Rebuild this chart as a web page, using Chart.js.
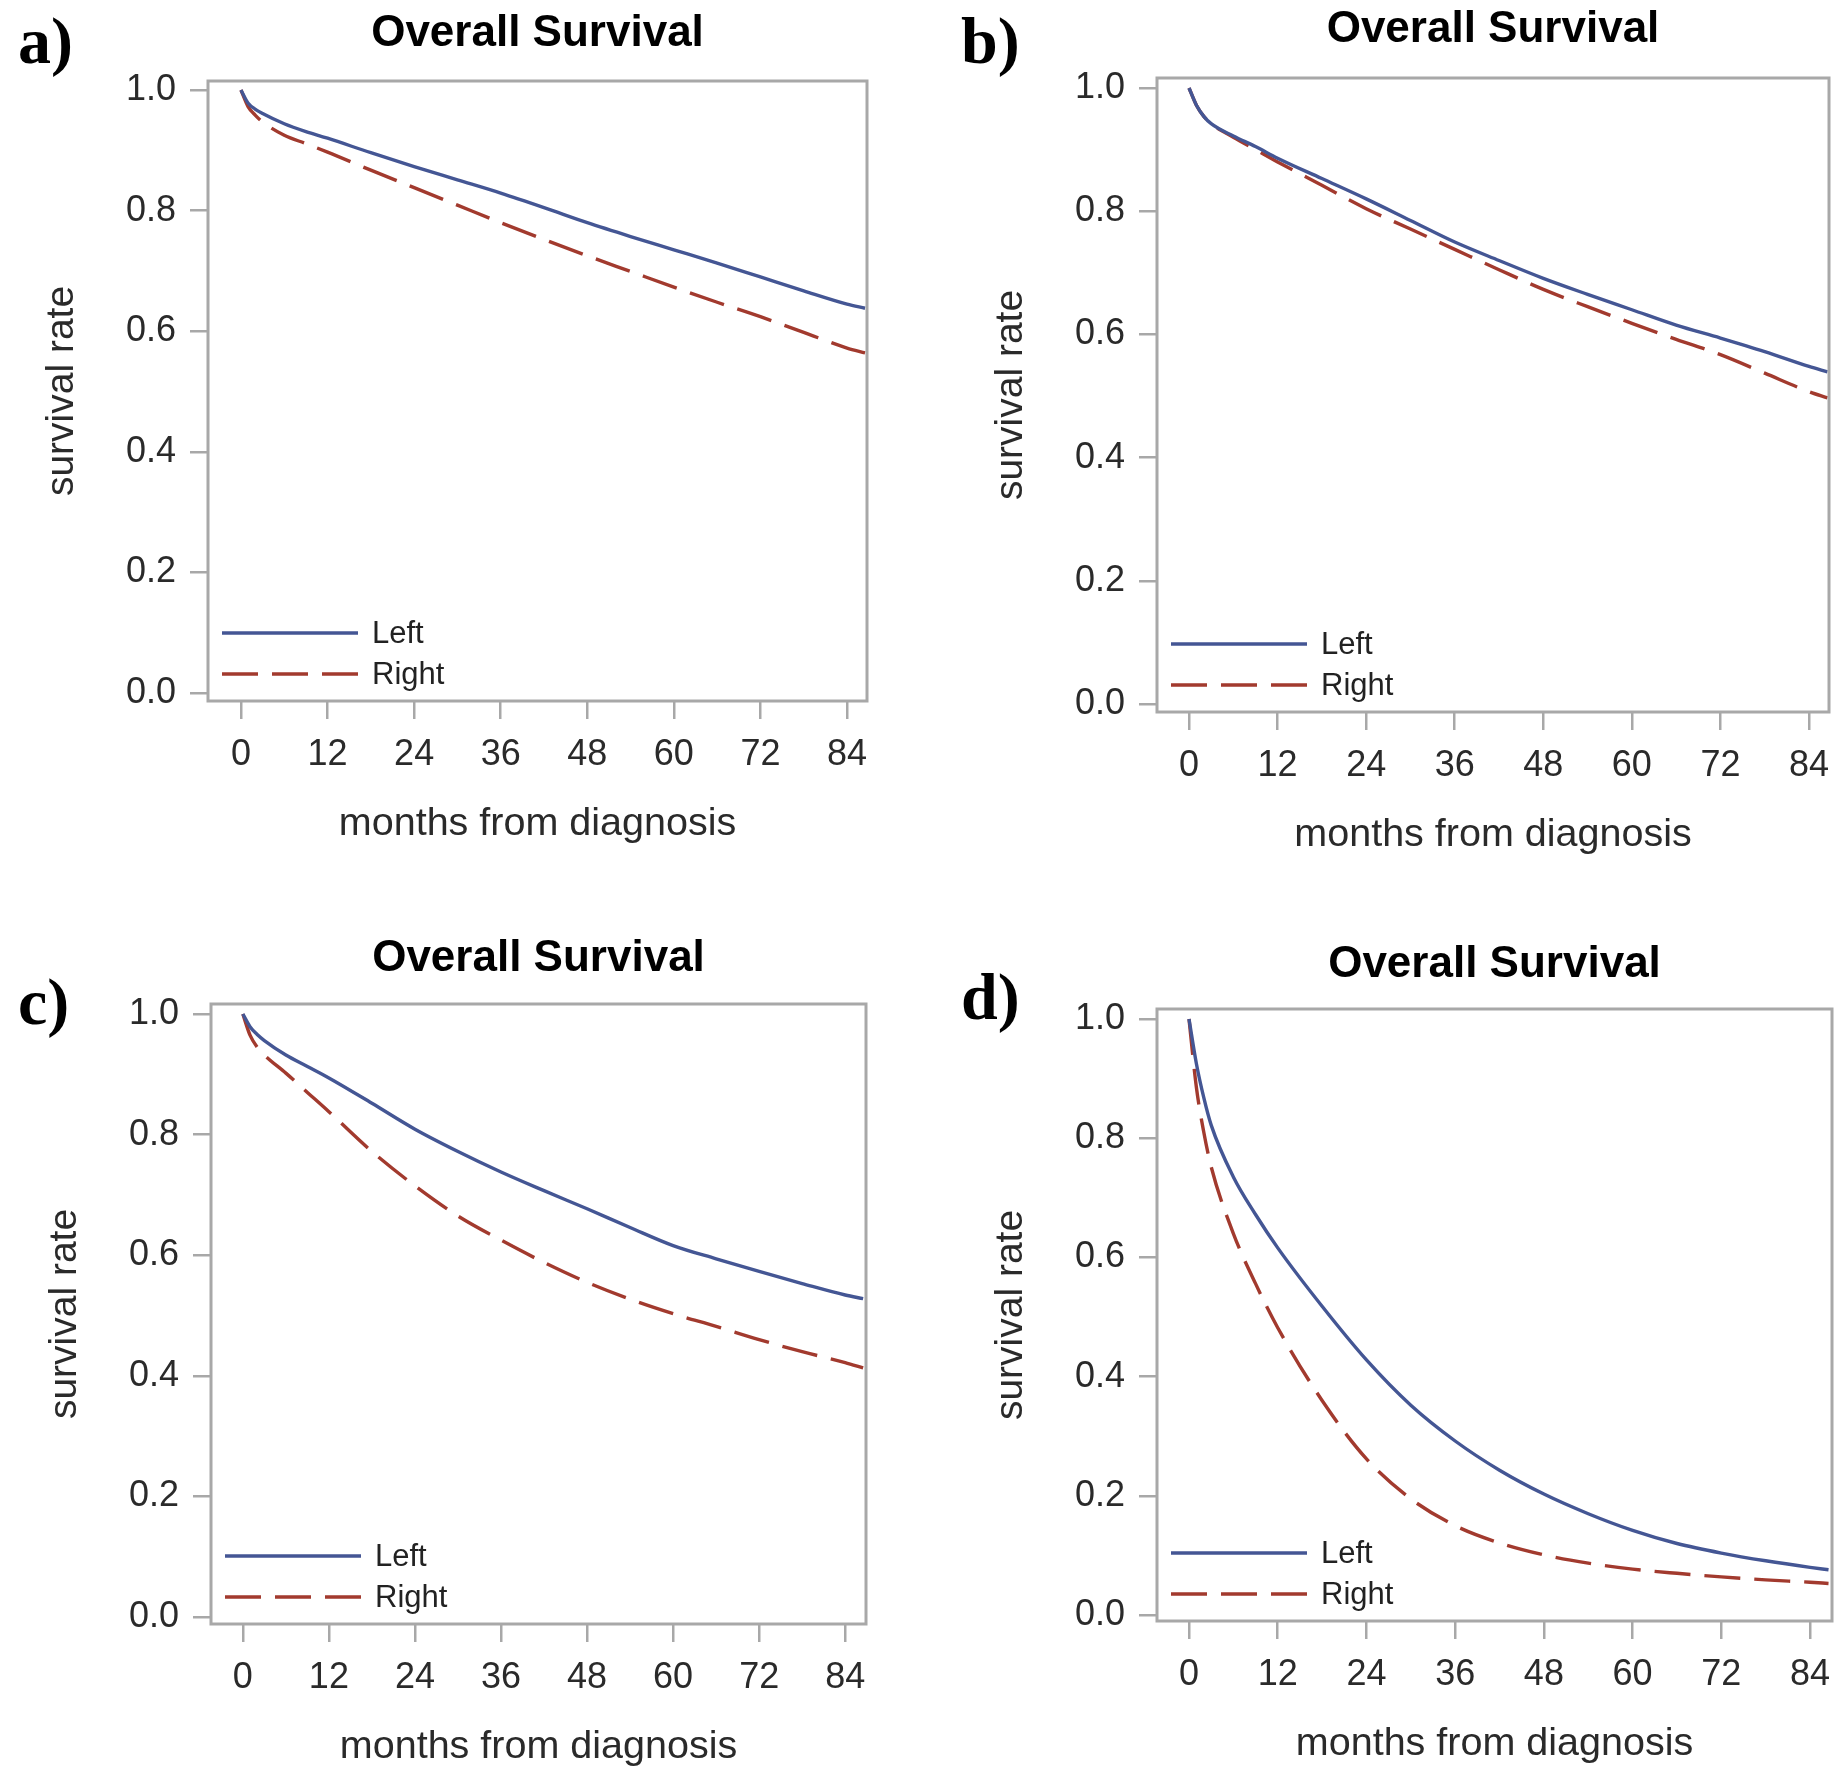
<!DOCTYPE html>
<html>
<head>
<meta charset="utf-8">
<title>Overall Survival by side</title>
<script src="https://cdn.jsdelivr.net/npm/chart.js@4.4.1/dist/chart.umd.min.js"></script>
<style>
  html, body { margin: 0; padding: 0; background: #fff; }
  body { position: relative; width: 1846px; height: 1783px; overflow: hidden; }
  canvas { position: absolute; }
</style>
</head>
<body>
<canvas id="chartA"></canvas>
<canvas id="chartB"></canvas>
<canvas id="chartC"></canvas>
<canvas id="chartD"></canvas>
<script>
const months = [0, 1, 2, 3, 6, 9, 12, 18, 24, 30, 36, 42, 48, 54, 60, 66, 72, 78, 84, 86.5];

// a)
const leftA  = [1.0, 0.978, 0.968, 0.961, 0.944, 0.931, 0.920, 0.896, 0.873, 0.851, 0.829, 0.805, 0.780, 0.757, 0.735, 0.713, 0.690, 0.667, 0.645, 0.638];
const rightA = [1.0, 0.972, 0.958, 0.947, 0.925, 0.911, 0.897, 0.867, 0.838, 0.809, 0.780, 0.752, 0.725, 0.699, 0.673, 0.648, 0.624, 0.598, 0.572, 0.564];
// b)
const leftB  = [1.0, 0.972, 0.954, 0.942, 0.922, 0.905, 0.886, 0.853, 0.820, 0.785, 0.750, 0.720, 0.691, 0.665, 0.640, 0.615, 0.594, 0.572, 0.548, 0.539];
const rightB = [1.0, 0.972, 0.954, 0.942, 0.920, 0.900, 0.880, 0.842, 0.804, 0.771, 0.738, 0.705, 0.673, 0.645, 0.618, 0.592, 0.567, 0.537, 0.507, 0.497];
// c)
const leftC  = [1.0, 0.979, 0.966, 0.956, 0.932, 0.913, 0.894, 0.852, 0.809, 0.772, 0.738, 0.707, 0.677, 0.646, 0.616, 0.594, 0.573, 0.553, 0.534, 0.528];
const rightC = [1.0, 0.965, 0.945, 0.932, 0.902, 0.870, 0.838, 0.772, 0.715, 0.665, 0.625, 0.588, 0.555, 0.527, 0.503, 0.482, 0.460, 0.440, 0.422, 0.413];
// d)
const leftD  = [1.0, 0.925, 0.868, 0.822, 0.735, 0.672, 0.616, 0.518, 0.428, 0.352, 0.292, 0.243, 0.203, 0.170, 0.142, 0.120, 0.104, 0.091, 0.080, 0.076];
const rightD = [1.0, 0.885, 0.810, 0.752, 0.640, 0.556, 0.482, 0.360, 0.262, 0.195, 0.150, 0.121, 0.101, 0.087, 0.077, 0.070, 0.064, 0.059, 0.055, 0.053];

const xTicks = [0, 12, 24, 36, 48, 60, 72, 84];
const yTicks = [0, 0.2, 0.4, 0.6, 0.8, 1.0];
const seriesNames = ['Left', 'Right'];
const panelTitle = 'Overall Survival';
const xTitle = 'months from diagnosis';
const yTitle = 'survival rate';

const FONT = '"Liberation Sans", Arial, sans-serif';
const BLUE = '#445694';
const RED = '#a23a2e';
const FRAME = '#a8a8a8';

// where each panel sits on the page: plot box (l, t, r, b), title centre, tag
const panels = [
  { id: 'chartA', tag: 'a)', left: leftA, right: rightA, box: [208, 81, 867, 701], top: 0, titleY: 34, tagXY: [18, 63],
    x: [-4.57, 86.77], y: [-0.0133, 1.0149] },
  { id: 'chartB', tag: 'b)', left: leftB, right: rightB, box: [1157, 78, 1829, 712], top: 0, titleY: 30, tagXY: [961, 63],
    x: [-4.34, 86.71], y: [-0.013, 1.0162] },
  { id: 'chartC', tag: 'c)', left: leftC, right: rightC, box: [211, 1004, 866, 1624], top: 891, titleY: 959, tagXY: [18, 1024],
    x: [-4.44, 86.9], y: [-0.0116, 1.0166] },
  { id: 'chartD', tag: 'd)', left: leftD, right: rightD, box: [1157, 1009, 1832, 1621], top: 891, titleY: 965, tagXY: [961, 1019],
    x: [-4.33, 86.97], y: [-0.010, 1.0168] }
];

// grey frame round the plot area
const framePlugin = {
  id: 'frame',
  afterDatasetsDraw(chart) {
    const { ctx, chartArea: a } = chart;
    ctx.save();
    ctx.strokeStyle = FRAME;
    ctx.lineWidth = 3;
    ctx.strokeRect(a.left, a.top, a.right - a.left, a.bottom - a.top);
    ctx.restore();
  }
};

// legend drawn inside the plot, bottom left
const insideLegend = {
  id: 'insideLegend',
  afterDraw(chart) {
    const { ctx, chartArea: a } = chart;
    const rows = [68, 27];
    ctx.save();
    chart.data.datasets.forEach((ds, i) => {
      const y = a.bottom - rows[i];
      ctx.strokeStyle = ds.borderColor;
      ctx.lineWidth = ds.borderWidth;
      ctx.setLineDash(ds.borderDash || []);
      ctx.beginPath();
      ctx.moveTo(a.left + 14, y);
      ctx.lineTo(a.left + 150, y);
      ctx.stroke();
      ctx.setLineDash([]);
      ctx.fillStyle = '#222';
      ctx.font = '31px ' + FONT;
      ctx.textBaseline = 'middle';
      ctx.fillText(ds.label, a.left + 164, y + 1);
    });
    ctx.restore();
  }
};

// panel letter a) b) c) d)
const tagPlugin = {
  id: 'tag',
  afterDraw(chart, args, opts) {
    const ctx = chart.ctx;
    ctx.save();
    ctx.font = 'bold 66px "Liberation Serif", "Times New Roman", serif';
    ctx.fillStyle = '#000';
    ctx.textBaseline = 'alphabetic';
    ctx.fillText(opts.text, opts.x, opts.y);
    ctx.restore();
  }
};

panels.forEach(p => {
  const [l, t, r, b] = p.box;
  const cLeft = l - 208;
  const cTop = p.top;
  const cW = Math.min(r + 20, 1846) - cLeft;
  const cH = b + 150 - cTop;
  const canvas = document.getElementById(p.id);
  canvas.width = cW;
  canvas.height = cH;
  canvas.style.left = cLeft + 'px';
  canvas.style.top = cTop + 'px';
  canvas.style.width = cW + 'px';
  canvas.style.height = cH + 'px';

  const titleSize = 44;
  const titleLine = titleSize * 1.2;
  const padTop = p.titleY - cTop - titleLine / 2;
  const padBottom = (t - cTop) - padTop - titleLine;

  new Chart(canvas, {
    type: 'line',
    data: {
      datasets: [
        { label: seriesNames[0], data: months.map((m, i) => ({ x: m, y: p.left[i] })),
          borderColor: BLUE, borderWidth: 3.4, pointRadius: 0, cubicInterpolationMode: 'monotone', fill: false },
        { label: seriesNames[1], data: months.map((m, i) => ({ x: m, y: p.right[i] })),
          borderColor: RED, borderWidth: 3.4, borderDash: [36, 14], pointRadius: 0, cubicInterpolationMode: 'monotone', fill: false }
      ]
    },
    options: {
      responsive: false,
      animation: false,
      devicePixelRatio: 1,
      layout: { padding: { left: 0, top: 0, right: cW - (r - cLeft), bottom: 0 } },
      plugins: {
        legend: { display: false },
        tooltip: { enabled: false },
        title: {
          display: true, text: panelTitle, fullSize: false, color: '#000',
          font: { family: FONT, size: titleSize, weight: 'bold' },
          padding: { top: padTop, bottom: padBottom }
        },
        tag: { text: p.tag, x: p.tagXY[0] - cLeft, y: p.tagXY[1] - cTop }
      },
      scales: {
        x: {
          type: 'linear', min: p.x[0], max: p.x[1],
          afterBuildTicks: s => { s.ticks = xTicks.map(v => ({ value: v })); },
          afterFit: s => { s.height = 150; },
          grid: { drawOnChartArea: false, drawTicks: true, tickLength: 18, color: FRAME, lineWidth: 2.5 },
          border: { display: false },
          ticks: { color: '#2a2a2a', padding: 14, maxRotation: 0, autoSkip: false,
                   font: { family: FONT, size: 36 }, callback: v => String(v) },
          title: { display: true, text: xTitle, color: '#2a2a2a',
                   font: { family: FONT, size: 39.5 }, padding: { top: 0, bottom: 3.5 } }
        },
        y: {
          type: 'linear', min: p.y[0], max: p.y[1],
          afterBuildTicks: s => { s.ticks = yTicks.map(v => ({ value: v })); },
          afterFit: s => { s.width = 208; },
          grid: { drawOnChartArea: false, drawTicks: true, tickLength: 18, color: FRAME, lineWidth: 2.5 },
          border: { display: false },
          ticks: { color: '#2a2a2a', padding: 14, autoSkip: false,
                   font: { family: FONT, size: 36 }, callback: v => v.toFixed(1) },
          title: { display: true, text: yTitle, color: '#2a2a2a',
                   font: { family: FONT, size: 39 }, padding: { top: 38.6, bottom: 0 } }
        }
      }
    },
    plugins: [framePlugin, insideLegend, tagPlugin]
  });
});
</script>
</body>
</html>
